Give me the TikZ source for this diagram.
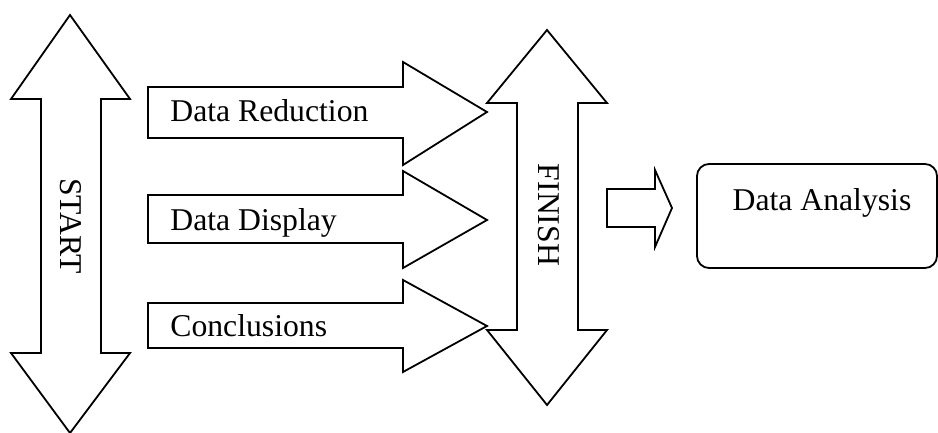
\documentclass[tikz,border=0pt]{standalone}
\usepackage{fontspec}
\setmainfont{Liberation Serif}
\begin{document}
\begin{tikzpicture}[x=0.5pt,y=-0.5pt,
		block/.style={draw,line width=0.9pt,fill=white,line join=miter},
		txt/.style={inner sep=0pt,font=\fontsize{15.85}{19}\selectfont}]
		\useasboundingbox (0,0) rectangle (938,433);

		% Start: tall double arrow on the left
		\draw[block] (70,15) -- (130,99) -- (101,99) -- (101,353) -- (130,353) -- (70,433)
			-- (11,353) -- (41,353) -- (41,99) -- (11,99) -- cycle;
		\node[txt,rotate=-90] (start) at (71,226) {START};

		% The three steps, each a block arrow pointing right
		\foreach \st/\sb/\ht/\hb/\tip/\name/\txt in {
				87/138/62/165/112/reduction/Data Reduction,
				195/243/171/268/220/display/Data Display,
				303/348/280/372/326/conclusions/Conclusions} {
				\draw[block] (148,\st) -- (403,\st) -- (403,\ht) -- (487,\tip) -- (403,\hb)
					-- (403,\sb) -- (148,\sb) -- cycle;
				\node[txt,anchor=base west] (\name) at (170,\tip+10) {\txt};
			}

		% Finish: second double arrow
		\draw[block] (547,30) -- (607,103) -- (578,103) -- (578,330) -- (607,330) -- (547,405)
			-- (487,330) -- (517,330) -- (517,103) -- (487,103) -- cycle;
		\node[txt,rotate=-90] (finish) at (549,215) {FINISH};

		% Small arrow towards the result
		\draw[block] (607,189) -- (655,189) -- (655,170) -- (672,208) -- (655,247)
			-- (655,227) -- (607,227) -- cycle;

		% Result box
		\draw[block,rounded corners=6pt] (697,164) rectangle (937,268);
		\node[txt,anchor=base] (analysis) at (822,211) {Data Analysis};
	\end{tikzpicture}
\end{document}
